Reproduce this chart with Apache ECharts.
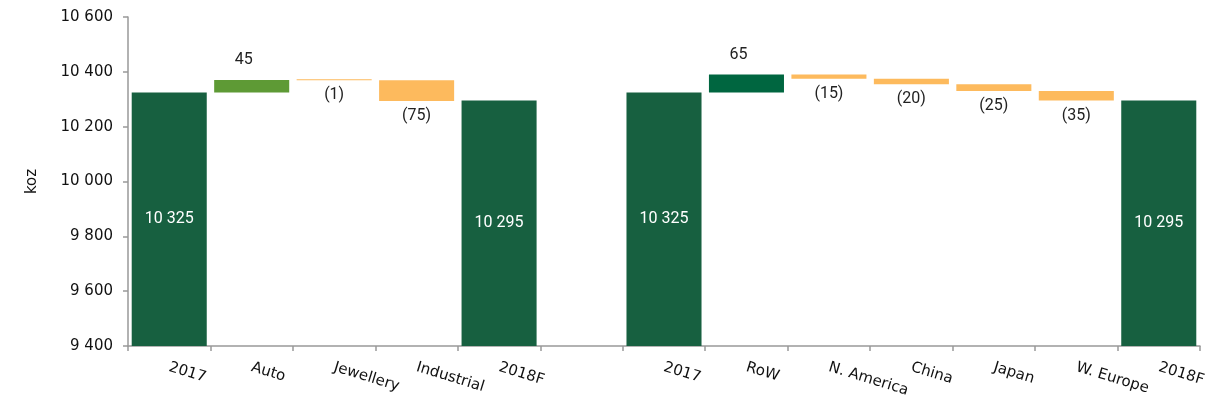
<!DOCTYPE html>
<html><head><meta charset="utf-8">
<script src="https://cdn.jsdelivr.net/npm/echarts@6/dist/echarts.min.js"></script>
<style>html,body{margin:0;padding:0;background:#fff}#c{width:1214px;height:408px}</style>
</head><body><div id="c"></div>
<script>
// ---- data ----
const categories = ['2017','Auto','Jewellery','Industrial','2018F','','2017','RoW','N. America','China','Japan','W. Europe','2018F'];
const totals     = [10325, null, null, null, 10295, null, 10325, null, null, null, null, null, 10295];
const changes    = [null, 45, -1, -75, null, null, null, 65, -15, -20, -25, -35, null];
const yTicks     = [9400, 9600, 9800, 10000, 10200, 10400, 10600];

// ---- build waterfall series ----
const fmt = v => { const s = String(Math.round(Math.abs(v))); return s.replace(/\B(?=(\d{3})+(?!\d))/g, ' '); };
const base = [], inc = [], dec = [], tot = [];
let running = null;
categories.forEach((c, i) => {
  if (totals[i] != null) {
    running = totals[i];
    base.push('-'); inc.push('-'); dec.push('-'); tot.push(totals[i]);
  } else if (changes[i] != null) {
    const d = changes[i];
    tot.push('-');
    if (d >= 0) {
      base.push(running); inc.push({value: d, itemStyle: {color: i < 5 ? '#5E9A35' : '#006640'}}); dec.push('-');
      running += d;
    } else {
      running += d;
      base.push(running); dec.push(-d); inc.push('-');
    }
  } else {
    base.push('-'); inc.push('-'); dec.push('-'); tot.push('-');
  }
});

const chart = echarts.init(document.getElementById('c'));
chart.setOption({
  animation: false,
  grid: {left: 128, right: 14, top: 17, bottom: 62},
  xAxis: {
    type: 'category', data: categories,
    axisLine: {lineStyle: {color: '#999', width: 1.5}},
    axisTick: {show: true, length: 5, lineStyle: {color: '#999', width: 1.5}},
    axisLabel: {rotate: -17, interval: 0, color: '#111', fontFamily: 'DejaVu Sans', fontSize: 15, margin: 21}
  },
  yAxis: {
    type: 'value', min: 9400, max: 10600, interval: 200,
    name: 'koz', nameLocation: 'middle', nameGap: 88, nameRotate: 90,
    nameTextStyle: {color: '#111', fontFamily: 'DejaVu Sans', fontSize: 15},
    splitLine: {show: false},
    axisLine: {show: true, lineStyle: {color: '#999', width: 1.5}},
    axisTick: {show: true, length: 5, lineStyle: {color: '#999', width: 1.5}},
    axisLabel: {color: '#111', fontFamily: 'DejaVu Sans', fontSize: 15, margin: 15,
      formatter: v => yTicks.includes(v) ? fmt(v) : ''}
  },
  series: [
    {type: 'bar', stack: 'w', data: base, barCategoryGap: '9%', itemStyle: {color: 'transparent'}, silent: true},
    {type: 'bar', stack: 'w', data: tot, itemStyle: {color: '#176040'},
      label: {show: true, position: 'inside', color: '#fff', fontFamily: 'Roboto', fontSize: 16, formatter: p => fmt(p.value)}},
    {type: 'bar', stack: 'w', data: inc, barMinHeight: 1,
      label: {show: true, position: 'top', distance: 12, offset: [-8, 0], color: '#222', fontFamily: 'Roboto', fontSize: 16, formatter: p => fmt(p.value)}},
    {type: 'bar', stack: 'w', data: dec, barMinHeight: 1, itemStyle: {color: '#FDBA5D'},
      label: {show: true, position: 'bottom', distance: 7, color: '#222', fontFamily: 'Roboto', fontSize: 16, formatter: p => '(' + fmt(p.value) + ')'}}
  ]
});
</script></body></html>
